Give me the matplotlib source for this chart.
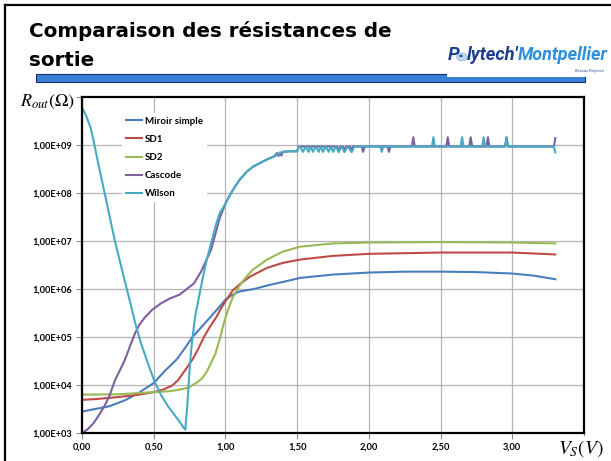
import matplotlib
matplotlib.use("Agg")
import matplotlib.pyplot as plt
from matplotlib.lines import Line2D
from matplotlib.patches import Rectangle, Circle

#===============================================================================
# data, R_out in ohms versus V_S in volts
miroir_x = [0.00, 0.10, 0.19, 0.30, 0.40, 0.50, 0.58, 0.66, 0.72, 0.77, 0.84, 0.90,
            0.95, 1.00, 1.05, 1.10, 1.20, 1.30, 1.40, 1.52, 1.75, 2.00, 2.25, 2.50,
            2.75, 3.00, 3.15, 3.30]
miroir_r = [2.8e3, 3.2e3, 3.6e3, 4.8e3, 7.0e3, 1.1e4, 2.0e4, 3.4e4, 6.0e4, 1.0e5, 1.7e5, 2.7e5,
            4.0e5, 6.0e5, 7.6e5, 8.9e5, 1.0e6, 1.2e6, 1.4e6, 1.7e6, 2.0e6, 2.2e6, 2.3e6, 2.3e6,
            2.25e6, 2.1e6, 1.9e6, 1.6e6]

sd1_x = [0.00, 0.10, 0.25, 0.40, 0.50, 0.57, 0.63, 0.67, 0.70, 0.74, 0.77, 0.81, 0.85,
         0.89, 0.94, 0.97, 1.00, 1.05, 1.10, 1.17, 1.29, 1.40, 1.52, 1.75, 2.00, 2.50,
         3.00, 3.30]
sd1_r = [4.9e3, 5.1e3, 5.6e3, 6.3e3, 7.1e3, 8.1e3, 9.8e3, 1.26e4, 1.7e4, 2.5e4, 3.4e4, 5.6e4, 1.0e5,
         1.6e5, 2.7e5, 4.0e5, 5.5e5, 9.3e5, 1.26e6, 1.8e6, 2.75e6, 3.5e6, 4.1e6, 4.9e6, 5.4e6, 5.75e6,
         5.75e6, 5.25e6]

sd2_x = [0.00, 0.25, 0.50, 0.60, 0.66, 0.72, 0.75, 0.80, 0.84, 0.87, 0.90, 0.93, 0.96,
         0.99, 1.02, 1.05, 1.10, 1.15, 1.19, 1.29, 1.40, 1.52, 1.75, 2.00, 2.50, 3.00, 3.30]
sd2_r = [6.3e3, 6.4e3, 7.1e3, 7.4e3, 7.8e3, 8.5e3, 9.1e3, 1.12e4, 1.4e4, 1.9e4, 2.9e4, 4.5e4, 8.9e4,
         2.0e5, 3.8e5, 6.6e5, 1.2e6, 1.86e6, 2.5e6, 4.1e6, 6.0e6, 7.6e6, 8.9e6, 9.3e6, 9.5e6, 9.3e6, 8.9e6]

cascode_x = [0.00, 0.04, 0.08, 0.12, 0.16, 0.19, 0.23, 0.27, 0.30, 0.34, 0.37, 0.40, 0.44,
             0.49, 0.55, 0.61, 0.68, 0.74, 0.78, 0.83, 0.86, 0.90, 0.93, 0.96, 1.00, 1.03,
             1.06, 1.10, 1.15, 1.19, 1.24, 1.29, 1.34, 1.36, 1.37, 1.38, 1.39, 1.40, 1.45,
             1.50, 1.51,
             1.78, 1.79, 1.80, 1.82, 1.83, 1.84, 1.87, 1.88, 1.89, 1.95, 1.96, 1.97,
             2.13, 2.14, 2.15, 2.30, 2.31, 2.32, 2.54, 2.55, 2.56, 2.70, 2.71, 2.72,
             2.82, 2.83, 2.84, 2.95, 2.96, 2.97, 3.29, 3.30]
cascode_r = [1.0e3, 1.2e3, 1.6e3, 2.4e3, 3.8e3, 5.8e3, 1.26e4, 2.2e4, 3.4e4, 7.1e4, 1.2e5, 1.8e5, 2.6e5,
             3.7e5, 5.0e5, 6.3e5, 7.6e5, 1.05e6, 1.3e6, 2.3e6, 3.6e6, 6.6e6, 1.4e7, 3.0e7, 6.0e7, 8.9e7,
             1.26e8, 1.9e8, 2.8e8, 3.5e8, 4.2e8, 5.0e8, 5.8e8, 6.8e8, 5.9e8, 7.0e8, 6.0e8, 7.2e8, 7.4e8,
             7.4e8, 9.3e8,
             9.3e8, 7.2e8, 9.3e8, 9.3e8, 7.2e8, 9.3e8, 9.3e8, 7.2e8, 9.3e8, 9.3e8, 7.2e8, 9.3e8,
             9.3e8, 7.2e8, 9.3e8, 9.3e8, 1.45e9, 9.3e8, 9.3e8, 1.45e9, 9.3e8, 9.3e8, 1.45e9, 9.3e8,
             9.3e8, 1.45e9, 9.3e8, 9.3e8, 1.45e9, 9.3e8, 9.3e8, 1.4e9]

wilson_x = [0.00, 0.03, 0.06, 0.08, 0.11, 0.16, 0.23, 0.30, 0.34, 0.37, 0.41, 0.46, 0.51,
            0.55, 0.60, 0.64, 0.67, 0.70, 0.72, 0.735, 0.745, 0.76, 0.775, 0.79, 0.81, 0.84,
            0.87, 0.90, 0.93, 0.96, 1.00, 1.03, 1.06, 1.10, 1.15, 1.19, 1.24, 1.29, 1.34,
            1.40, 1.45, 1.50, 1.51,
            1.52, 1.54, 1.56, 1.58, 1.595, 1.61, 1.63, 1.65, 1.665, 1.68, 1.70, 1.72, 1.735,
            1.75, 1.77, 1.79, 1.81, 1.83, 1.85, 1.88, 1.90, 2.08, 2.09, 2.10,
            2.44, 2.45, 2.46, 2.64, 2.65, 2.66, 2.79, 2.80, 2.81, 2.95, 2.96, 2.97, 3.29, 3.30]
wilson_r = [6.0e9, 4.0e9, 2.3e9, 1.26e9, 4.6e8, 9.3e7, 9.8e6, 1.4e6, 4.7e5, 2.0e5, 7.6e4, 2.8e4, 1.1e4,
            6.3e3, 3.6e3, 2.5e3, 1.9e3, 1.4e3, 1.17e3, 4.0e3, 1.26e4, 5.0e4, 1.26e5, 2.8e5, 5.6e5, 1.6e6,
            4.1e6, 8.9e6, 2.0e7, 3.8e7, 6.0e7, 8.9e7, 1.26e8, 1.9e8, 2.8e8, 3.5e8, 4.2e8, 5.0e8, 5.8e8,
            7.2e8, 7.4e8, 7.4e8, 9.3e8,
            9.3e8, 7.2e8, 9.3e8, 7.2e8, 9.3e8, 7.2e8, 9.3e8, 7.2e8, 9.3e8, 7.2e8, 9.3e8, 7.2e8, 9.3e8,
            7.2e8, 9.3e8, 7.2e8, 9.3e8, 7.2e8, 9.3e8, 7.2e8, 9.3e8, 9.3e8, 7.2e8, 9.3e8,
            9.3e8, 1.45e9, 9.3e8, 9.3e8, 1.45e9, 9.3e8, 9.3e8, 1.45e9, 9.3e8, 9.3e8, 1.45e9, 9.3e8, 9.3e8, 7.0e8]

series_names = ["Miroir simple", "SD1", "SD2", "Cascode", "Wilson"]
series_colors = ["#4A7EBB", "#BE4B48", "#98B954", "#7D60A0", "#46AAC5"]

x_ticks = [0.0, 0.5, 1.0, 1.5, 2.0, 2.5, 3.0]
x_tick_labels = ["0,00", "0,50", "1,00", "1,50", "2,00", "2,50", "3,00"]
y_ticks = [1e3, 1e4, 1e5, 1e6, 1e7, 1e8, 1e9]
y_tick_labels = ["1,00E+03", "1,00E+04", "1,00E+05", "1,00E+06", "1,00E+07", "1,00E+08", "1,00E+09"]

#===============================================================================
W, H = 611, 461
plt.rcParams["mathtext.fontset"] = "stix"

fig = plt.figure(figsize=(W / 100, H / 100), dpi=100)


def fx(px):
    return px / W


def fy(py):
    return 1 - py / H


# slide border
fig.add_artist(Line2D([fx(5), fx(611)], [fy(5), fy(5)], color="black", lw=1.6))
fig.add_artist(Line2D([fx(5), fx(5)], [fy(5), fy(461)], color="black", lw=1.6))

# title
fig.text(fx(29), fy(31), "Comparaison des résistances de", fontsize=14.3, fontweight="bold",
         va="center", ha="left")
fig.text(fx(29), fy(60), "sortie", fontsize=14.3, fontweight="bold", va="center", ha="left")

# blue bar under the title
fig.add_artist(Rectangle((fx(36), fy(82)), fx(585) - fx(36), fy(74) - fy(82),
                         facecolor="#3A80D6", edgecolor="#1B2A6B", lw=0.8))
# logo area
fig.add_artist(Rectangle((fx(447), fy(77)), fx(611) - fx(447), fy(38) - fy(77),
                         facecolor="white", edgecolor="none"))
logo_font = "Roboto"
fig.text(fx(448), fy(55), "P", fontsize=13.5, fontweight="bold", style="italic",
         color="#1D3E8C", family=logo_font, va="center")
fig.add_artist(Circle((fx(462), fy(57)), 0.0085, transform=fig.transFigure,
                      facecolor="#BFD8F2", edgecolor="#8FB3DC", lw=0.6))
fig.add_artist(Circle((fx(461), fy(56)), 0.0025, transform=fig.transFigure,
                      facecolor="#1D3E8C", edgecolor="none"))
fig.text(fx(467), fy(55), "lytech'", fontsize=13.2, fontweight="bold", style="italic",
         color="#1D3E8C", family=logo_font, va="center")
fig.text(fx(518), fy(55), "Montpellier", fontsize=13.0, fontweight="bold", style="italic",
         color="#2E8FDC", family=logo_font, va="center")
fig.text(fx(604), fy(71), "Réseau Polytech", fontsize=2.5, style="italic",
         color="#1D3E8C", ha="right", va="center")

#===============================================================================
ax = fig.add_axes([fx(82), fy(433), fx(584) - fx(82), fy(97) - fy(433)])

xs = [miroir_x, sd1_x, sd2_x, cascode_x, wilson_x]
ys = [miroir_r, sd1_r, sd2_r, cascode_r, wilson_r]
for x, y, name, color in zip(xs, ys, series_names, series_colors):
    ax.plot(x, y, color=color, lw=1.5, label=name, solid_joinstyle="round")

ax.set_yscale("log")
ax.set_xlim(0, 3.5)
ax.set_ylim(1e3, 1e10)

ax.set_xticks(x_ticks)
ax.set_xticklabels(x_tick_labels)
ax.set_yticks(y_ticks)
ax.set_yticklabels(y_tick_labels)
ax.set_yticks([1e10], minor=True)
ax.set_yticklabels([""], minor=True)
ax.set_xticks([3.5], minor=True)

for label in ax.get_xticklabels() + ax.get_yticklabels():
    label.set_fontfamily("Lato")
    label.set_fontweight("bold")
    label.set_fontsize(6.7)

ax.tick_params(axis="both", which="both", length=4, width=0.8, color="#8C8C8C", pad=3)
ax.grid(True, which="major", color="#B5B5B5", lw=0.9)
ax.set_axisbelow(True)
for spine in ax.spines.values():
    spine.set_color("black")
    spine.set_linewidth(1.6)

legend = ax.legend(loc="upper left", bbox_to_anchor=(0.07, 0.968), frameon=True,
                   facecolor="white", edgecolor="none", framealpha=1, fancybox=False,
                   handlelength=1.7, handletextpad=0.25, labelspacing=0.95,
                   borderpad=0.4, prop={"family": "Lato", "weight": "bold", "size": 7})

# axis titles
fig.text(fx(47), fy(102), r"$R_{out}(\Omega)$", fontsize=13, ha="center", va="center",
         bbox=dict(facecolor="white", edgecolor="none", pad=1))
fig.text(fx(581), fy(449), r"$V_S(V)$", fontsize=14, ha="center", va="center",
         bbox=dict(facecolor="white", edgecolor="none", pad=2))

fig.savefig("out.png", dpi=100)
